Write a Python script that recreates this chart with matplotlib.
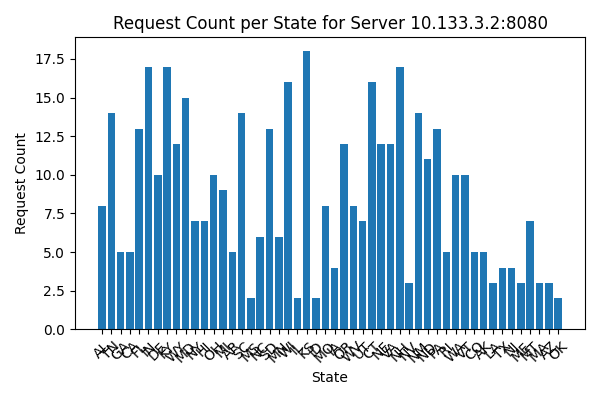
import matplotlib
matplotlib.use("Agg")
import matplotlib.pyplot as plt

# states (x tick labels), in the order shown
states = ["AL", "TN", "GA", "CA", "FL", "IN", "DE", "KY", "WY", "MD",
          "NY", "HI", "OH", "MI", "AR", "SC", "MS", "NC", "SD", "MN",
          "WI", "IL", "KS", "ID", "MO", "IA", "OR", "WV", "UT", "CT",
          "NE", "VA", "NH", "NV", "NM", "ND", "PA", "RI", "WA", "VT",
          "CO", "AK", "LA", "TX", "NJ", "ME", "MT", "MA", "AZ", "OK"]

# request count per state
counts = [8, 14, 5, 5, 13, 17, 10, 17, 12, 15,
          7, 7, 10, 9, 5, 14, 2, 6, 13, 6,
          16, 2, 18, 2, 8, 4, 12, 8, 7, 16,
          12, 12, 17, 3, 14, 11, 13, 5, 10, 10,
          5, 5, 3, 4, 4, 3, 7, 3, 3, 2]

fig, ax = plt.subplots(figsize=(6, 4), dpi=100)
ax.bar(states, counts)
ax.set_title("Request Count per State for Server 10.133.3.2:8080")
ax.set_xlabel("State")
ax.set_ylabel("Request Count")
plt.xticks(rotation=45)
plt.tight_layout()
plt.savefig("out.png", dpi=100)
